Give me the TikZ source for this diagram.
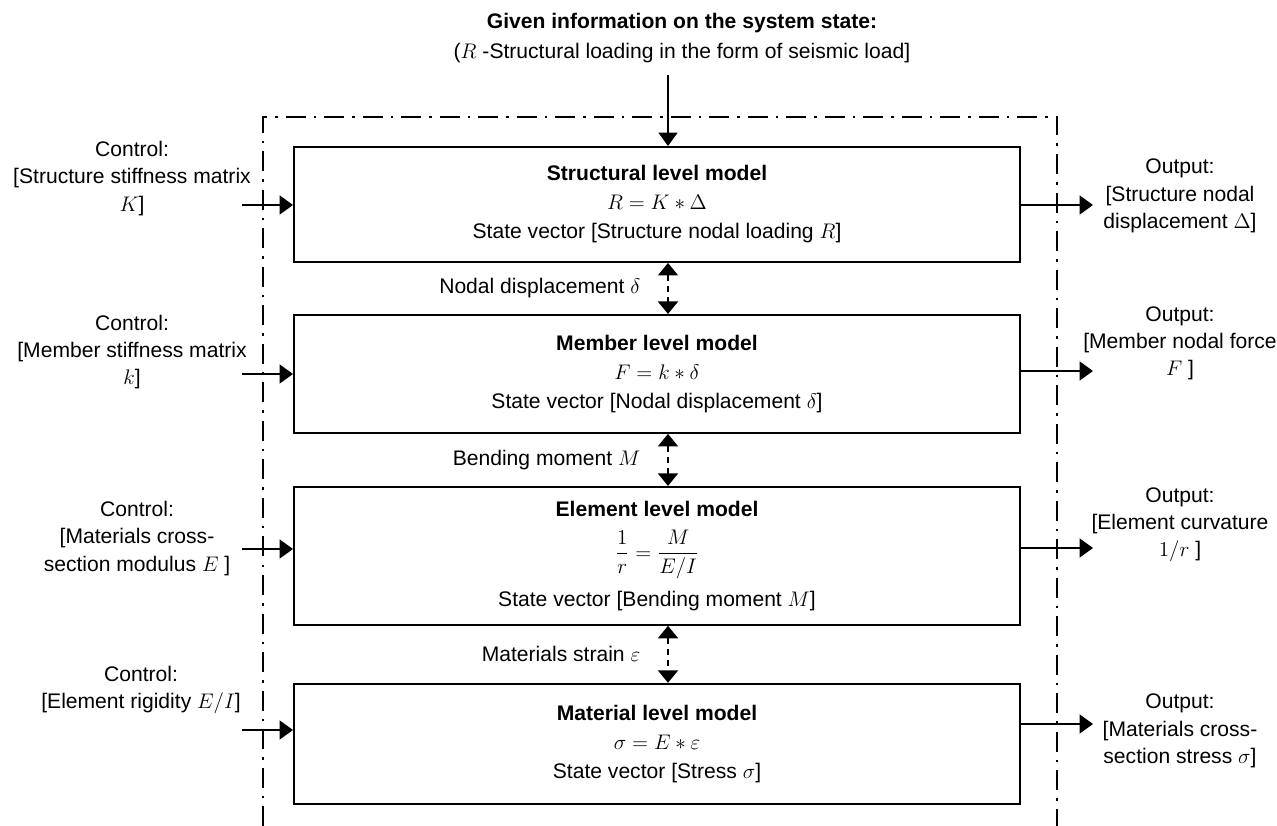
\documentclass[tikz,border=0pt]{standalone}
\usepackage{amsmath,amssymb}
\usepackage[no-math]{fontspec}
\setmainfont{Liberation Sans}
\usetikzlibrary{arrows.meta,positioning,calc}
\tikzset{
  basebox/.style={rectangle,draw=black,line width=1.1pt,align=center,font=\fontsize{12}{16.5}\selectfont},
  levelnode/.style={basebox,minimum width=14.52cm,inner sep=2pt},
  sidetext/.style={align=center,font=\fontsize{12}{15.5}\selectfont,inner sep=1pt},
  gaptext/.style={font=\fontsize{12}{14}\selectfont,inner sep=1pt},
  arr/.style={-{Triangle[length=0.27cm,width=0.38cm]},line width=1.1pt},
  dblarr/.style={{Triangle[length=0.25cm,width=0.4cm]}-{Triangle[length=0.25cm,width=0.4cm]},
    line width=1.1pt,dash pattern=on 0.12cm off 0.1cm},
  frameline/.style={line width=1.1pt,dash pattern=on 0.4cm off 0.16cm on 0.05cm off 0.16cm}
}

\begin{document}
\begin{tikzpicture}
  \useasboundingbox (0,0) rectangle (25.54,-16.52);

  %% Given state on top
  \node[sidetext,font=\fontsize{12}{17}\selectfont] (given) at (13.64,-0.76)
    {\textbf{Given information on the system state:}\\($R$ -Structural loading in the form of seismic load]};
  \coordinate (gin) at (13.36,-1.5);

  %% Model levels
  \node[levelnode,minimum height=2.3cm] (strmod) at (13.14,-4.09)
    {\textbf{Structural level model}\\$R = K \ast \Delta$\\State vector {[}Structure nodal loading $R$]};
  \node[levelnode,below=1.02cm of strmod,minimum height=2.36cm] (memmod)
    {\textbf{Member level model}\\$F = k \ast \delta$\\State vector {[}Nodal displacement $\delta$]};
  \node[levelnode,below=1.04cm of memmod,minimum height=2.76cm] (elemod)
    {\textbf{Element level model}\\[8pt]$\dfrac{1}{r} = \dfrac{M}{E/I}$\\[6pt]State vector {[}Bending moment $M$]};
  \node[levelnode,below=1.14cm of elemod,minimum height=2.4cm] (matmod)
    {\textbf{Material level model}\\$\sigma = E \ast \varepsilon$\\State vector {[}Stress $\sigma$]};

  %% Control inputs
  \node[sidetext] (ctl1) at (2.64,-3.57) {Control:\\{[}Structure stiffness matrix\\$K$]};
  \node[sidetext] (ctl2) at (2.64,-7.04) {Control:\\{[}Member stiffness matrix\\$k$]};
  \node[sidetext] (ctl3) at (2.74,-10.77) {Control:\\{[}Materials cross-\\section modulus $E$ ]};
  \node[sidetext] (ctl4) at (2.82,-13.8) {Control:\\{[}Element rigidity $E/I$]};
  \coordinate (cin1) at (4.84,-4.1);
  \coordinate (cin2) at (4.84,-7.48);
  \coordinate (cin3) at (4.84,-10.98);
  \coordinate (cin4) at (4.84,-14.6);

  %% Outputs
  \node[sidetext] (out1) at (23.6,-3.92) {Output:\\{[}Structure nodal\\displacement $\Delta$]};
  \node[sidetext] (out2) at (23.6,-6.87) {Output:\\{[}Member nodal force\\$F$ ]};
  \node[sidetext] (out3) at (23.6,-10.5) {Output:\\{[}Element curvature\\$1/r$ ]};
  \node[sidetext] (out4) at (23.6,-14.62) {Output:\\{[}Materials cross-\\section stress $\sigma$]};
  \coordinate (oend1) at (21.86,-4.1);
  \coordinate (oend2) at (21.86,-7.42);
  \coordinate (oend3) at (21.86,-10.96);
  \coordinate (oend4) at (21.86,-14.48);

  %% System boundary
  \draw[frameline] (5.26,-16.52) -- (5.26,-2.34) -- (21.14,-2.34) -- (21.14,-16.52);

  %% Arrows
  \draw[arr] (gin) -- (gin |- strmod.north);
  \draw[arr] (cin1) -- (cin1 -| strmod.west);
  \draw[arr] (cin2) -- (cin2 -| memmod.west);
  \draw[arr] (cin3) -- (cin3 -| elemod.west);
  \draw[arr] (cin4) -- (cin4 -| matmod.west);
  \draw[arr] (oend1 -| strmod.east) -- (oend1);
  \draw[arr] (oend2 -| memmod.east) -- (oend2);
  \draw[arr] (oend3 -| elemod.east) -- (oend3);
  \draw[arr] (oend4 -| matmod.east) -- (oend4);
  \draw[dblarr] (strmod.south -| gin) -- (memmod.north -| gin)
    node[gaptext,midway,left=0.5cm] {Nodal displacement $\delta$};
  \draw[dblarr] (memmod.south -| gin) -- (elemod.north -| gin)
    node[gaptext,midway,left=0.5cm] {Bending moment $M$};
  \draw[dblarr] (elemod.south -| gin) -- (matmod.north -| gin)
    node[gaptext,midway,left=0.5cm] {Materials strain $\varepsilon$};
\end{tikzpicture}
\end{document}
